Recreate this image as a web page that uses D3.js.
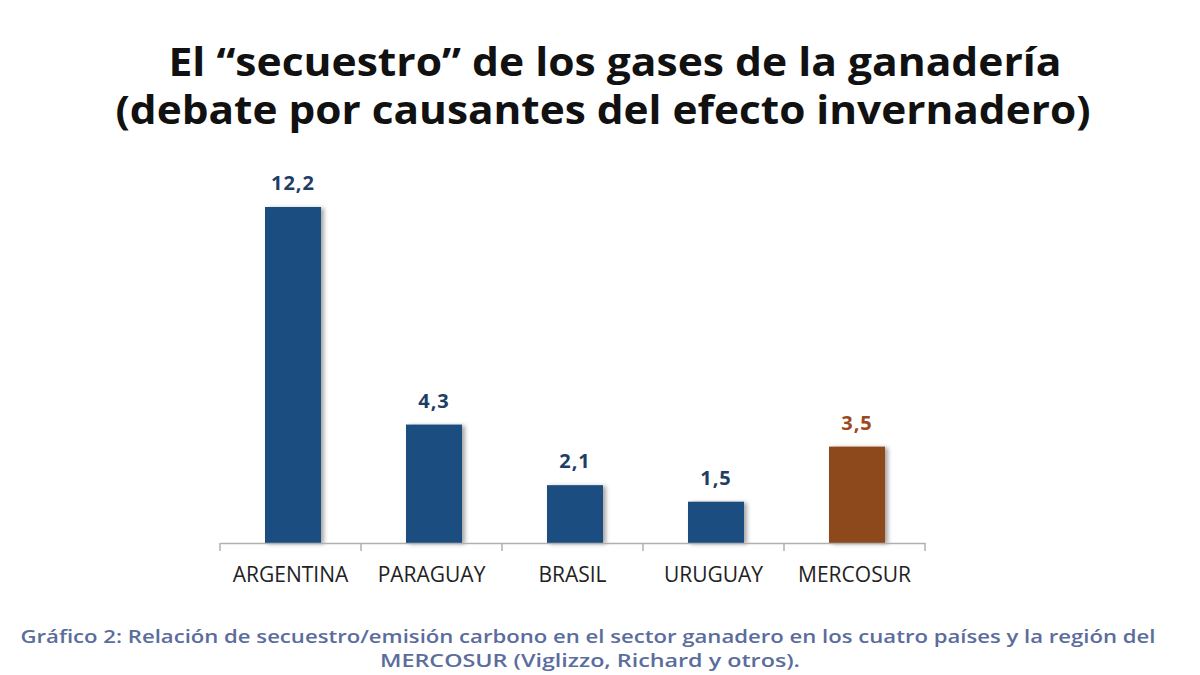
<!DOCTYPE html>
<html><head><meta charset="utf-8">
<script src="https://cdn.jsdelivr.net/npm/d3@7"></script>
<style>html,body{margin:0;padding:0;background:#fff}</style>
</head><body>
<svg id="c" width="1200" height="675"></svg>
<script>
const categories = ["ARGENTINA","PARAGUAY","BRASIL","URUGUAY","MERCOSUR"];
const values = [12.2, 4.3, 2.1, 1.5, 3.5];
const valueLabels = ["12,2","4,3","2,1","1,5","3,5"];
const barColors = ["#1b4e80","#1b4e80","#1b4e80","#1b4e80","#8d4a1f"];
const labelColors = ["#1e3e66","#1e3e66","#1e3e66","#1e3e66","#9a4a1e"];
const titleLines = ["El \u201csecuestro\u201d de los gases de la ganader\u00eda","(debate por causantes del efecto invernadero)"];
const captionLines = ["Gr\u00e1fico 2: Relaci\u00f3n de secuestro/emisi\u00f3n carbono en el sector ganadero en los cuatro pa\u00edses y la regi\u00f3n del","MERCOSUR (Viglizzo, Richard y otros)."];

const svg = d3.select("#c");
const defs = svg.append("defs");
const f = defs.append("filter").attr("id","sh").attr("x","-20%").attr("y","-5%").attr("width","150%").attr("height","115%");
f.append("feDropShadow").attr("dx",3).attr("dy",1).attr("stdDeviation",2).attr("flood-color","#000").attr("flood-opacity",0.35);

const x = d3.scaleBand().domain(categories).range([220, 925]).paddingInner(0).paddingOuter(0);
const y = d3.scaleLinear().domain([0, 12.2]).range([543, 207]);
const bw = 56;
const barShift = 2.5;

// title
svg.append("g").selectAll("text").data(titleLines).join("text")
  .attr("x",(d,i)=> i===0 ? 615 : 603)
  .attr("y",(d,i)=> 76 + i*48)
  .attr("text-anchor","middle")
  .attr("textLength",(d,i)=> i===0 ? 893 : 975)
  .attr("lengthAdjust","spacingAndGlyphs")
  .style("font-family","'Open Sans', 'DejaVu Sans', sans-serif")
  .style("font-weight","700").style("font-size","39px").style("fill","#111")
  .text(d=>d);

// bars
svg.append("g").selectAll("rect").data(values).join("rect")
  .attr("x",(d,i)=> x(categories[i]) + x.bandwidth()/2 - bw/2 + barShift)
  .attr("y", d=> y(d))
  .attr("width", bw)
  .attr("height", d=> y(0) - y(d))
  .attr("fill",(d,i)=> barColors[i])
  .attr("filter","url(#sh)");

// value labels
svg.append("g").selectAll("text").data(values).join("text")
  .attr("x",(d,i)=> x(categories[i]) + x.bandwidth()/2 + barShift)
  .attr("y", d=> y(d) - 17)
  .attr("text-anchor","middle")
  .style("font-family","'Open Sans', sans-serif").style("font-weight","700").style("font-size","20px")
  .style("letter-spacing","1px")
  .style("fill",(d,i)=> labelColors[i])
  .text((d,i)=> valueLabels[i]);

// axis
const axis = d3.axisBottom(x).tickSize(0).tickPadding(24);
const gx = svg.append("g").attr("transform","translate(0,543)").call(axis);
gx.select(".domain").attr("stroke","#b0b0b0").attr("stroke-width",1.5);
gx.selectAll(".tick text").style("font-family","'Liberation Sans Narrow','Open Sans',sans-serif").style("font-size","21px").style("fill","#222");
const bounds = categories.map(c=>x(c)).concat([x(categories[categories.length-1]) + x.bandwidth()]);
gx.selectAll("line.sep").data(bounds).join("line").attr("class","sep")
  .attr("x1",d=>d).attr("x2",d=>d).attr("y1",0).attr("y2",8)
  .attr("stroke","#b0b0b0").attr("stroke-width",1.5);

// caption
svg.append("g").selectAll("text").data(captionLines).join("text")
  .attr("x",(d,i)=> i===0 ? 588 : 590)
  .attr("y",(d,i)=> 643 + i*24)
  .attr("text-anchor","middle")
  .attr("textLength",(d,i)=> i===0 ? 1135 : 420)
  .attr("lengthAdjust","spacingAndGlyphs")
  .style("font-family","'Open Sans', sans-serif").style("font-weight","600").style("font-size","18px")
  .style("fill","#5b6d9c")
  .text(d=>d);
</script>
</body></html>
